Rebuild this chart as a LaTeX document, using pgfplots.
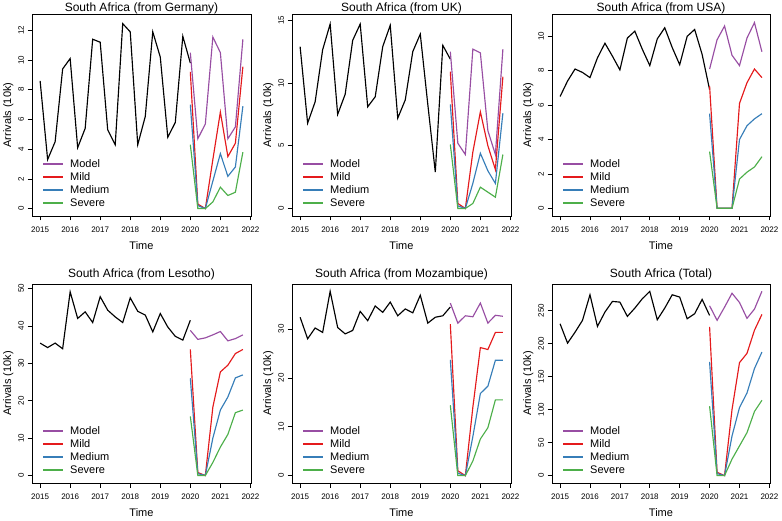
\documentclass[border=0pt]{standalone}
\usepackage{pgfplots}
\pgfplotsset{compat=1.18}
\usepackage{fontspec}
\setmainfont{Liberation Sans}
\definecolor{cmodel}{HTML}{984EA3}
\definecolor{cmild}{HTML}{E41A1C}
\definecolor{cmed}{HTML}{377EB8}
\definecolor{csev}{HTML}{4DAF4A}
\pgfplotsset{
  panel/.style={
    scale only axis, width=219pt,
    xmin=2014.73, xmax=2022.02,
    xtick={2015,2016,...,2022},
    xtick pos=bottom, ytick pos=left,
    tick align=outside, major tick length=4.5pt,
    tick style={black, line width=0.6pt},
    axis line style={line width=0.8pt},
    /pgf/number format/assume math mode=true,
    /pgf/number format/1000 sep={},
    ticklabel style={font=\fontsize{8}{9}\selectfont},
    xticklabel style={yshift=-3pt},
    yticklabel style={rotate=90, anchor=south},
    xlabel={Time}, ylabel={Arrivals (10k)},
    label style={font=\fontsize{11}{13}\selectfont},
    xlabel style={yshift=-2pt},
    ylabel style={yshift=-2pt},
    title style={font=\fontsize{12}{14}\selectfont},
    every axis plot/.append style={line width=1.15pt, mark=none},
  },
  toprow/.style={title style={yshift=-10pt}},
  botrow/.style={title style={yshift=-6pt}},
  blk/.style={black},
  mo/.style={cmodel},
  mi/.style={cmild},
  me/.style={cmed},
  se/.style={csev},
}
\newcommand{\keyitem}[3]{%
  \fill[#1] ([xshift=11pt,yshift=#2pt-1pt]rel axis cs:0,0) rectangle ([xshift=31pt,yshift=#2pt+1pt]rel axis cs:0,0);
  \node[anchor=west, inner sep=0pt, font=\fontsize{11}{12}\selectfont] at ([xshift=38pt,yshift=#2pt]rel axis cs:0,0) {#3};}
\newcommand{\keylines}{%
  \keyitem{cmodel}{52}{Model}
  \keyitem{cmild}{39}{Mild}
  \keyitem{cmed}{26}{Medium}
  \keyitem{csev}{13}{Severe}}
\begin{document}
\begin{tikzpicture}
\useasboundingbox (0,0) rectangle (782pt,520pt);
% ---------- Germany ----------
\begin{axis}[panel, toprow, at={(32pt,304pt)}, anchor=south west, height=202pt,
  ymin=-0.5, ymax=13.1, ytick={0,2,...,12},
  title={South Africa (from Germany)}]
\addplot[blk] coordinates {(2015,8.6)(2015.25,3.3)(2015.5,4.5)(2015.75,9.4)(2016,10.1)(2016.25,4.1)(2016.5,5.4)(2016.75,11.4)(2017,11.2)(2017.25,5.3)(2017.5,4.3)(2017.75,12.45)(2018,11.9)(2018.25,4.3)(2018.5,6.2)(2018.75,11.9)(2019,10.2)(2019.25,4.8)(2019.5,5.8)(2019.75,11.6)(2020,9.8)};
\addplot[mo] coordinates {(2020,10.5)(2020.25,4.7)(2020.5,5.7)(2020.75,11.55)(2021,10.5)(2021.25,4.7)(2021.5,5.5)(2021.75,11.4)};
\addplot[mi] coordinates {(2020,9.2)(2020.25,0.3)(2020.5,0)(2020.75,3.3)(2021,6.5)(2021.25,3.5)(2021.5,4.4)(2021.75,9.56)};
\addplot[me] coordinates {(2020,7.0)(2020.25,0.2)(2020.5,0)(2020.75,1.85)(2021,3.7)(2021.25,2.17)(2021.5,2.8)(2021.75,6.9)};
\addplot[se] coordinates {(2020,4.3)(2020.25,0)(2020.5,0)(2020.75,0.45)(2021,1.44)(2021.25,0.88)(2021.5,1.1)(2021.75,3.8)};
\keylines
\end{axis}
% ---------- UK ----------
\begin{axis}[panel, toprow, at={(292pt,304pt)}, anchor=south west, height=202pt,
  ymin=-0.6, ymax=15.5, ytick={0,5,10,15},
  title={South Africa (from UK)}]
\addplot[blk] coordinates {(2015,12.9)(2015.25,6.8)(2015.5,8.5)(2015.75,12.65)(2016,14.7)(2016.25,7.5)(2016.5,9.1)(2016.75,13.4)(2017,14.7)(2017.25,8.1)(2017.5,8.9)(2017.75,12.9)(2018,14.6)(2018.25,7.2)(2018.5,8.65)(2018.75,12.5)(2019,13.9)(2019.25,8.3)(2019.5,2.9)(2019.75,13.0)(2020,11.9)};
\addplot[mo] coordinates {(2020,12.5)(2020.25,5.2)(2020.5,4.3)(2020.75,12.7)(2021,12.4)(2021.25,6.2)(2021.5,4.3)(2021.75,12.7)};
\addplot[mi] coordinates {(2020,10.9)(2020.25,0.4)(2020.5,0)(2020.75,4.5)(2021,7.7)(2021.25,5.0)(2021.5,3.1)(2021.75,10.5)};
\addplot[me] coordinates {(2020,8.3)(2020.25,0.2)(2020.5,0)(2020.75,2.0)(2021,4.4)(2021.25,3.0)(2021.5,2.0)(2021.75,7.6)};
\addplot[se] coordinates {(2020,5.1)(2020.25,0)(2020.5,0)(2020.75,0.4)(2021,1.7)(2021.25,1.3)(2021.5,0.9)(2021.75,4.3)};
\keylines
\end{axis}
% ---------- USA ----------
\begin{axis}[panel, toprow, at={(552pt,304pt)}, anchor=south west, height=202pt, width=218pt,
  ymin=-0.45, ymax=11.3, ytick={0,2,...,10},
  title={South Africa (from USA)}]
\addplot[blk] coordinates {(2015,6.5)(2015.25,7.4)(2015.5,8.1)(2015.75,7.9)(2016,7.6)(2016.25,8.75)(2016.5,9.6)(2016.75,8.85)(2017,8.05)(2017.25,9.9)(2017.5,10.3)(2017.75,9.25)(2018,8.3)(2018.25,9.85)(2018.5,10.5)(2018.75,9.35)(2019,8.35)(2019.25,10.0)(2019.5,10.4)(2019.75,8.95)(2020,6.9)};
\addplot[mo] coordinates {(2020,8.1)(2020.25,9.8)(2020.5,10.6)(2020.75,8.9)(2021,8.3)(2021.25,9.9)(2021.5,10.8)(2021.75,9.1)};
\addplot[mi] coordinates {(2020,7.1)(2020.25,0)(2020.5,0)(2020.75,0)(2021,6.1)(2021.25,7.3)(2021.5,8.1)(2021.75,7.6)};
\addplot[me] coordinates {(2020,5.5)(2020.25,0)(2020.5,0)(2020.75,0)(2021,4.0)(2021.25,4.8)(2021.5,5.2)(2021.75,5.5)};
\addplot[se] coordinates {(2020,3.3)(2020.25,0)(2020.5,0)(2020.75,0)(2021,1.7)(2021.25,2.1)(2021.5,2.4)(2021.75,3.0)};
\keylines
\end{axis}
% ---------- Lesotho ----------
\begin{axis}[panel, botrow, at={(32pt,37pt)}, anchor=south west, height=199pt,
  ymin=-2, ymax=51.2, ytick={0,10,...,50},
  title={South Africa (from Lesotho)}]
\addplot[blk] coordinates {(2015,35.4)(2015.25,34.2)(2015.5,35.4)(2015.75,33.9)(2016,49.1)(2016.25,42.0)(2016.5,43.75)(2016.75,40.9)(2017,47.8)(2017.25,44.2)(2017.5,42.4)(2017.75,40.9)(2018,47.5)(2018.25,43.9)(2018.5,42.9)(2018.75,38.4)(2019,43.3)(2019.25,39.7)(2019.5,37.2)(2019.75,36.2)(2020,41.5)};
\addplot[mo] coordinates {(2020,38.8)(2020.25,36.4)(2020.5,36.8)(2020.75,37.6)(2021,38.5)(2021.25,36.0)(2021.5,36.6)(2021.75,37.6)};
\addplot[mi] coordinates {(2020,33.7)(2020.25,0.8)(2020.5,0)(2020.75,18.3)(2021,27.7)(2021.25,29.5)(2021.5,32.6)(2021.75,33.7)};
\addplot[me] coordinates {(2020,26.0)(2020.25,0.5)(2020.5,0)(2020.75,10.0)(2021,17.5)(2021.25,21.0)(2021.5,26.1)(2021.75,26.9)};
\addplot[se] coordinates {(2020,15.8)(2020.25,0)(2020.5,0)(2020.75,3.5)(2021,7.6)(2021.25,11.0)(2021.5,16.8)(2021.75,17.5)};
\keylines
\end{axis}
% ---------- Mozambique ----------
\begin{axis}[panel, botrow, at={(292pt,37pt)}, anchor=south west, height=199pt,
  ymin=-1.5, ymax=39.2, ytick={0,10,20,30},
  title={South Africa (from Mozambique)}]
\addplot[blk] coordinates {(2015,32.4)(2015.25,28.0)(2015.5,30.2)(2015.75,29.3)(2016,37.7)(2016.25,30.3)(2016.5,29.0)(2016.75,29.7)(2017,33.6)(2017.25,31.7)(2017.5,34.7)(2017.75,33.4)(2018,35.5)(2018.25,32.7)(2018.5,34.1)(2018.75,33.3)(2019,36.9)(2019.25,31.2)(2019.5,32.4)(2019.75,32.7)(2020,34.5)};
\addplot[mo] coordinates {(2020,35.3)(2020.25,31.2)(2020.5,32.7)(2020.75,32.5)(2021,35.3)(2021.25,31.2)(2021.5,32.8)(2021.75,32.6)};
\addplot[mi] coordinates {(2020,31.0)(2020.25,1.0)(2020.5,0)(2020.75,14.0)(2021,26.2)(2021.25,25.8)(2021.5,29.3)(2021.75,29.3)};
\addplot[me] coordinates {(2020,23.7)(2020.25,0.5)(2020.5,0)(2020.75,8.0)(2021,16.8)(2021.25,18.3)(2021.5,23.6)(2021.75,23.6)};
\addplot[se] coordinates {(2020,14.4)(2020.25,0)(2020.5,0)(2020.75,3.0)(2021,7.5)(2021.25,9.8)(2021.5,15.5)(2021.75,15.5)};
\keylines
\end{axis}
% ---------- Total ----------
\begin{axis}[panel, botrow, at={(552pt,37pt)}, anchor=south west, height=199pt, width=218pt,
  ymin=-11.2, ymax=290, ytick={0,50,...,250},
  title={South Africa (Total)}]
\addplot[blk] coordinates {(2015,229.8)(2015.25,200.5)(2015.5,217)(2015.75,235)(2016,273.7)(2016.25,225.8)(2016.5,247.5)(2016.75,263.6)(2017,262.6)(2017.25,241)(2017.5,253.5)(2017.75,267.7)(2018,278.8)(2018.25,235.9)(2018.5,253.5)(2018.75,273.7)(2019,270.2)(2019.25,237.4)(2019.5,245)(2019.75,266.7)(2020,242.4)};
\addplot[mo] coordinates {(2020,257)(2020.25,235)(2020.5,255)(2020.75,276)(2021,262)(2021.25,238)(2021.5,252)(2021.75,279)};
\addplot[mi] coordinates {(2020,225)(2020.25,5)(2020.5,0)(2020.75,100)(2021,171)(2021.25,185)(2021.5,220)(2021.75,244)};
\addplot[me] coordinates {(2020,172)(2020.25,3)(2020.5,0)(2020.75,60)(2021,103)(2021.25,125)(2021.5,162)(2021.75,187)};
\addplot[se] coordinates {(2020,105)(2020.25,0)(2020.5,0)(2020.75,25)(2021,45)(2021.25,65)(2021.5,97)(2021.75,114)};
\keylines
\end{axis}
\end{tikzpicture}
\end{document}
